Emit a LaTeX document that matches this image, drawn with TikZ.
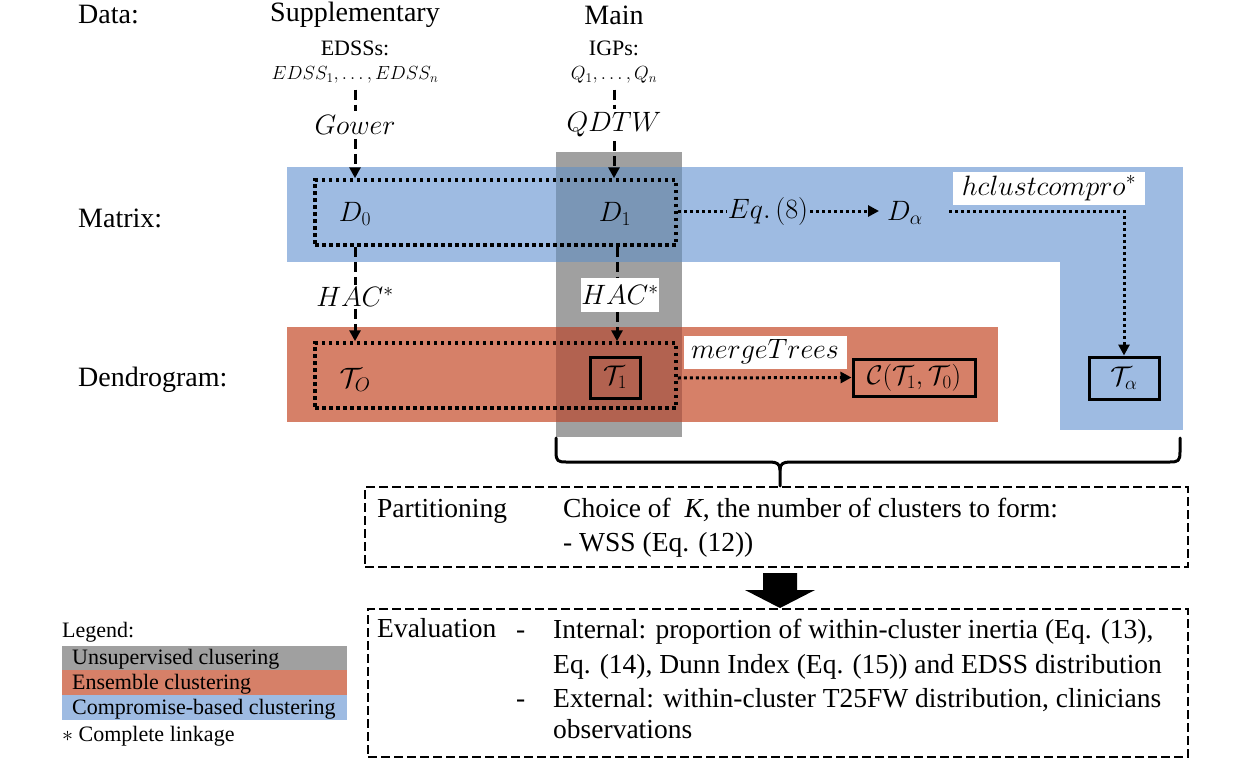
\RequirePackage{fix-cm}
\documentclass[tikz,border=0pt]{standalone}
\usepackage{fontspec}
\setmainfont{Liberation Serif}
\usetikzlibrary{arrows.meta,calc}

\definecolor{cblue}{RGB}{158,187,226}
\definecolor{cred}{RGB}{214,128,104}
\definecolor{cgray}{RGB}{160,160,160}
\definecolor{cgb}{RGB}{122,150,182}
\definecolor{cgr}{RGB}{178,98,80}

\tikzset{
  lbl/.style={font=\fontsize{28}{33}\selectfont, inner sep=0pt},
  sml/.style={font=\fontsize{22}{26}\selectfont, inner sep=0pt},
  mth/.style={font=\fontsize{28}{32}\selectfont, inner sep=2pt},
  smth/.style={font=\fontsize{19}{23}\selectfont, inner sep=2pt},
  txt/.style={font=\fontsize{27.5}{32}\selectfont, inner sep=0pt},
  leg/.style={font=\fontsize{22}{26}\selectfont, inner sep=0pt},
  dotbox/.style={draw, line width=3.5pt, dash pattern=on 3.5pt off 3.5pt, inner sep=0pt},
  solidbox/.style={draw, line width=3pt, inner sep=0pt, font=\fontsize{27}{31}\selectfont},
  dashbox/.style={draw, line width=1.3pt, dash pattern=on 9pt off 4pt, inner sep=0pt},
  dsh/.style={line width=3pt, dash pattern=on 10pt off 5pt},
  dsharrow/.style={dsh, -{Triangle[length=11pt,width=11pt]}},
  dotl/.style={line width=3pt, dash pattern=on 3pt off 3pt},
  dotarrow/.style={dotl, -{Triangle[length=11pt,width=11pt]}},
  bracel/.style={line width=3pt, line cap=round, line join=round}
}

\begin{document}
\begin{tikzpicture}[x=1pt,y=-1pt]
\useasboundingbox (0,0) rectangle (1248,768);

% bands
\fill[cblue] (287,167) rectangle (1183,262);
\fill[cblue] (1060,262) rectangle (1183,430);
\fill[cred] (287,327) rectangle (998,422);
\fill[cgray] (556,152) rectangle (682,437);
\fill[cgb] (556,167) rectangle (682,262);
\fill[cgr] (556,327) rectangle (682,422);

% data row
\node[lbl, anchor=west] (data) at (78,15) {Data:};
\node[lbl] (supp) at (355,15) {Supplementary};
\node[lbl] (main) at (614,15) {Main};
\node[sml] (edsss) at (355,48) {EDSSs:};
\node[sml] (igps) at (614,48) {IGPs:};
\node[smth] (edssn) at (355,75) {$EDSS_1,\ldots,EDSS_n$};
\node[smth] (qn) at (614,75) {$Q_1,\ldots,Q_n$};
\node[mth] (gower) at (355,125) {$Gower$};
\node[mth] (qdtw) at (614,125) {$QDTW$};

% matrix row
\node[lbl, anchor=west] (matrix) at (78,218) {Matrix:};
\node[dotbox, minimum width=361pt, minimum height=65pt] (mrect) at (495.5,212.5) {};
\node[mth] (D0) at (355,214) {$D_0$};
\node[mth] (D1) at (615,214) {$D_1$};
\node[mth] (eq8) at (768,211) {$Eq.\,(8)$};
\node[mth] (Da) at (905,213) {$D_\alpha$};
\node[mth, fill=white, minimum width=192pt, minimum height=33pt, inner sep=0pt] (hcl) at (1049,188) {$hclustcompro^*$};

% HAC labels
\node[mth] (hacl) at (355,297) {$HAC^*$};
\node[mth, fill=white, minimum width=70pt, minimum height=34pt, inner sep=0pt] (hacr) at (620,295) {$HAC^*$};

% dendrogram row
\node[lbl, anchor=west] (dend) at (78,380) {Dendrogram:};
\node[dotbox, minimum width=361pt, minimum height=65pt] (drect) at (495.5,375.5) {};
\node[mth] (T0) at (355,380) {$\mathcal{T}_O$};
\node[solidbox, minimum width=50pt, minimum height=41pt] (T1) at (615,377.5) {$\mathcal{T}_1$};
\node[mth, fill=white, minimum width=163pt, minimum height=33pt, inner sep=0pt] (mt) at (765,352) {$mergeTrees$};
\node[solidbox, minimum width=122pt, minimum height=37pt] (C) at (914,377.5) {$\mathcal{C}(\mathcal{T}_1,\mathcal{T}_0)$};
\node[solidbox, minimum width=70pt, minimum height=42pt] (Ta) at (1124,378) {$\mathcal{T}_\alpha$};

% connectors
\draw[dsh, shorten <=4pt, shorten >=2pt] (edssn.south) -- (gower.north);
\draw[dsh, shorten <=4pt, shorten >=2pt] (qn.south) -- (qdtw.north);
\draw[dsharrow, shorten <=2pt] (gower.south) -- (gower.south |- mrect.north);
\draw[dsharrow, shorten <=2pt] (qdtw.south) -- (qdtw.south |- mrect.north);
\draw[dsh] (mrect.south -| hacl) -- (hacl.north);
\draw[dsharrow] (hacl.south) -- (hacl.south |- drect.north);
\draw[dsh] ($(mrect.south -| hacr)+(-3,0)$) -- ($(hacr.north)+(-3,0)$);
\draw[dsharrow] ($(hacr.south)+(-3,0)$) -- ($(hacr.south |- drect.north)+(-3,0)$);
\draw[dotl] (mrect.east |- eq8) -- (eq8.west);
\draw[dotarrow, shorten >=6pt] (eq8.east) -- (Da.west |- eq8);
\draw[dotarrow] ($(Da.east |- eq8)+(24,0)$) -| (Ta.north);
\draw[dotarrow] ($(drect.east)+(0,2.5)$) -- (C.west);

% brace
\draw[bracel] (556,438) -- (556,452) .. controls (556,461) and (558,462) .. (566,462) -- (770,462)
  .. controls (777,462) and (780,464) .. (780,470) -- (780,486);
\draw[bracel] (780,470) .. controls (780,464) and (783,462) .. (790,462) -- (1170,462)
  .. controls (1178,462) and (1180,461) .. (1180,452) -- (1180,438);

% partitioning box
\node[dashbox, minimum width=823pt, minimum height=80pt] (part) at (776.5,527) {};
\node[txt, anchor=base west] (ptitle) at (377,517) {Partitioning};
\node[txt, anchor=base west] (pl1) at (563,517) {Choice of ~\textit{K}, the number of clusters to form:};
\node[txt, anchor=base west] (pl2) at (563,551) {- WSS (Eq. (12))};

% big arrow
\fill (763,573) -- (797,573) -- (797,590) -- (815,590) -- (780,608) -- (745,590) -- (763,590) -- cycle;

% evaluation box
\node[dashbox, minimum width=820pt, minimum height=148pt] (eval) at (778,683) {};
\node[txt, anchor=base west] (etitle) at (377,637) {Evaluation};
\node[txt, anchor=base west] (d1) at (516,638) {-};
\node[txt, anchor=base west] (e1) at (553,638) {Internal: proportion of within-cluster inertia (Eq. (13),};
\node[txt, anchor=base west] (e2) at (553,673) {Eq. (14), Dunn Index (Eq. (15)) and EDSS distribution};
\node[txt, anchor=base west] (d2) at (516,707) {-};
\node[txt, anchor=base west] (e3) at (553,707) {External: within-cluster T25FW distribution, clinicians};
\node[txt, anchor=base west] (e4) at (553,738) {observations};

% legend
\node[leg, anchor=base west] (legt) at (62,637) {Legend:};
\fill[cgray] (62,646) rectangle (347,670);
\fill[cred] (62,670) rectangle (347,695);
\fill[cblue] (62,695) rectangle (347,720);
\node[leg, anchor=base west] (l1) at (72,664) {Unsupervised clusering};
\node[leg, anchor=base west] (l2) at (72,689) {Ensemble clustering};
\node[leg, anchor=base west] (l3) at (72,714) {Compromise-based clustering};
\node[leg, anchor=base west] (l4) at (62,741) {$\ast$ Complete linkage};
\end{tikzpicture}
\end{document}
